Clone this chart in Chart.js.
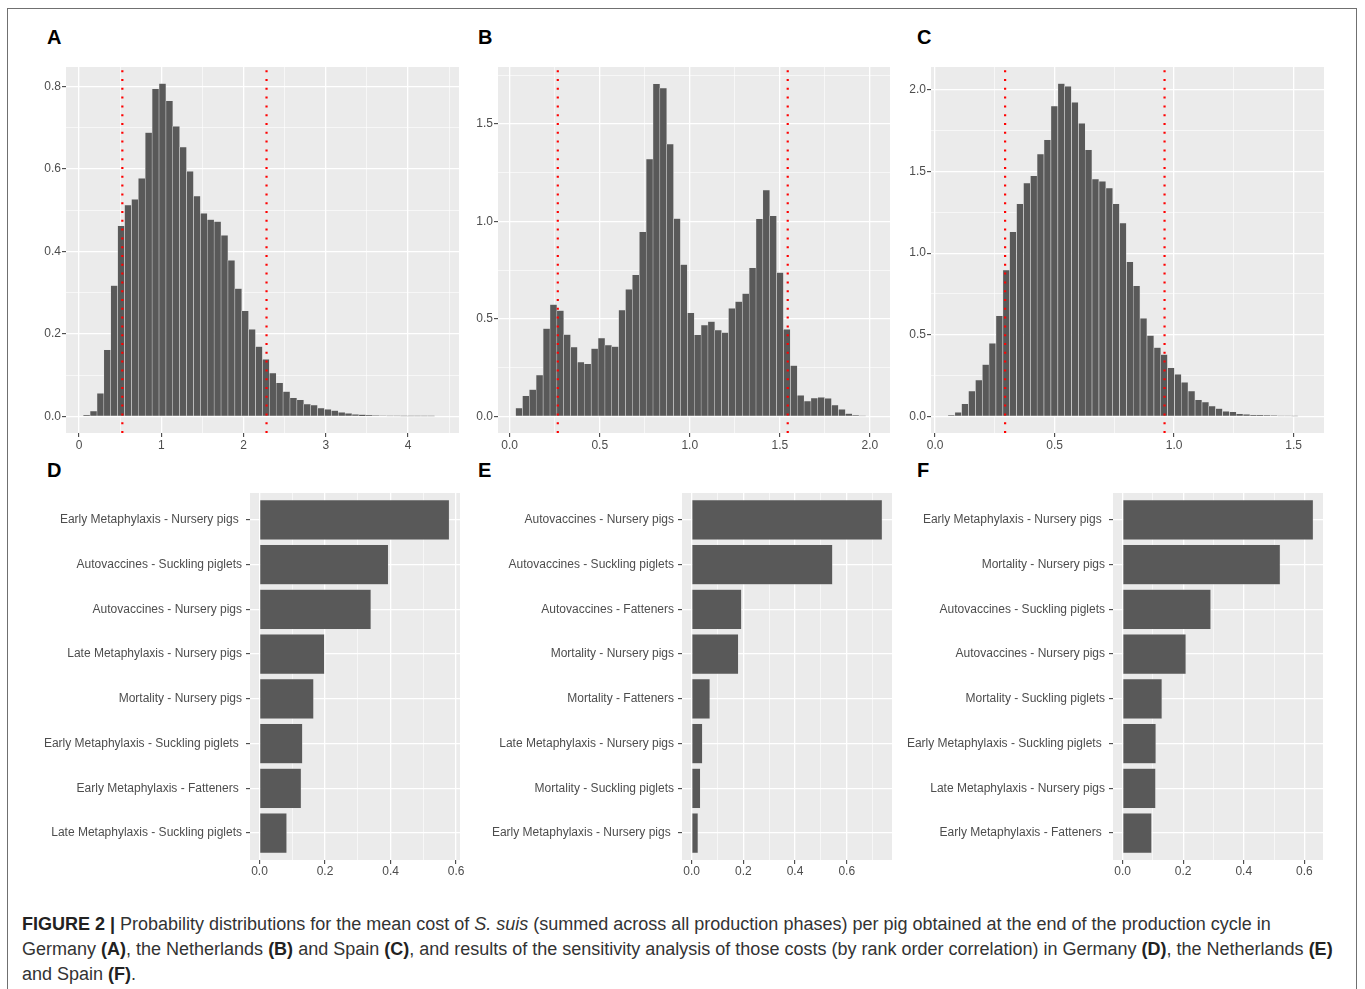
<!DOCTYPE html>
<html><head><meta charset="utf-8">
<script src="https://cdn.jsdelivr.net/npm/chart.js"></script>
<style>
html,body{margin:0;padding:0;background:#fff;width:1365px;height:989px;overflow:hidden;position:relative;}
#frame{position:absolute;left:7px;top:8px;width:1350px;height:1100px;border:1.5px solid #707070;box-sizing:border-box;}
.lbl{position:absolute;font:bold 20px/20px "Liberation Sans",Arial,sans-serif;color:#000;}
canvas{position:absolute;}
#caption{position:absolute;left:22px;top:912px;font:18px/25px "Liberation Sans",Arial,sans-serif;color:#333;white-space:nowrap;}
#caption b{color:#222;}
</style></head><body>
<div id="frame"></div>
<div class="lbl" style="left:47px;top:27px">A</div>
<div class="lbl" style="left:478px;top:27px">B</div>
<div class="lbl" style="left:917px;top:27px">C</div>
<div class="lbl" style="left:47px;top:460px">D</div>
<div class="lbl" style="left:478px;top:460px">E</div>
<div class="lbl" style="left:917px;top:460px">F</div>
<canvas id="cA"></canvas><canvas id="cB"></canvas><canvas id="cC"></canvas>
<canvas id="cD"></canvas><canvas id="cE"></canvas><canvas id="cF"></canvas>
<div id="caption"><b>FIGURE 2 |</b> Probability distributions for the mean cost of <i>S. suis</i> (summed across all production phases) per pig obtained at the end of the production cycle in<br>Germany <b>(A)</b>, the Netherlands <b>(B)</b> and Spain <b>(C)</b>, and results of the sensitivity analysis of those costs (by rank order correlation) in Germany <b>(D)</b>, the Netherlands <b>(E)</b><br>and Spain <b>(F)</b>.</div>
<script>
// ---------- DATA ----------
// Histogram A (Germany)
const histA_x = [0.093,0.177,0.261,0.344,0.428,0.512,0.596,0.680,0.763,0.847,0.931,1.015,1.099,1.182,1.266,1.350,1.434,1.518,1.601,1.685,1.769,1.853,1.937,2.020,2.104,2.188,2.272,2.356,2.439,2.523,2.607,2.691,2.775,2.858,2.942,3.026,3.110,3.194,3.277,3.361,3.445,3.529,3.613,3.696,3.780,3.864,3.948,4.032,4.115,4.199,4.283];
const histA_y = [0.003,0.013,0.056,0.161,0.317,0.462,0.512,0.526,0.577,0.688,0.794,0.807,0.765,0.703,0.653,0.594,0.534,0.492,0.477,0.472,0.439,0.378,0.310,0.256,0.211,0.169,0.138,0.105,0.081,0.060,0.045,0.040,0.030,0.027,0.020,0.017,0.014,0.010,0.007,0.005,0.004,0.003,0.002,0.0015,0.001,0.001,0.0007,0.0005,0.0005,0.0003,0.0002];
const histA_ci = [0.527, 2.28];
const histA_xTicks = [0,1,2,3,4], histA_xLabels = ["0","1","2","3","4"], histA_xMinor = [0.5,1.5,2.5,3.5,4.5];
const histA_yTicks = [0,0.2,0.4,0.6,0.8], histA_yLabels = ["0.0","0.2","0.4","0.6","0.8"], histA_yMinor = [0.1,0.3,0.5,0.7];

// Histogram B (Netherlands)
const histB_x = [0.052,0.090,0.128,0.166,0.205,0.243,0.281,0.319,0.357,0.395,0.433,0.472,0.510,0.548,0.586,0.624,0.662,0.700,0.739,0.777,0.815,0.853,0.891,0.929,0.967,1.006,1.044,1.082,1.120,1.158,1.196,1.234,1.272,1.311,1.349,1.387,1.425,1.463,1.501,1.539,1.578,1.616,1.654,1.692,1.730,1.768,1.806,1.845,1.883,1.921,1.959];
const histB_y = [0.043,0.106,0.137,0.212,0.450,0.574,0.543,0.420,0.356,0.279,0.269,0.348,0.402,0.366,0.358,0.546,0.652,0.726,0.947,1.320,1.707,1.685,1.397,1.015,0.779,0.531,0.418,0.469,0.486,0.443,0.430,0.555,0.589,0.630,0.762,1.014,1.161,1.029,0.738,0.447,0.260,0.108,0.079,0.094,0.098,0.092,0.058,0.036,0.014,0.005,0.002];
const histB_ci = [0.267, 1.544];
const histB_xTicks = [0,0.5,1,1.5,2], histB_xLabels = ["0.0","0.5","1.0","1.5","2.0"], histB_xMinor = [0.25,0.75,1.25,1.75];
const histB_yTicks = [0,0.5,1,1.5], histB_yLabels = ["0.0","0.5","1.0","1.5"], histB_yMinor = [0.25,0.75,1.25,1.75];

// Histogram C (Spain)
const histC_x = [0.068,0.097,0.125,0.154,0.183,0.212,0.240,0.269,0.298,0.326,0.355,0.384,0.413,0.441,0.470,0.499,0.528,0.556,0.585,0.614,0.642,0.671,0.700,0.729,0.757,0.786,0.815,0.843,0.872,0.901,0.930,0.958,0.987,1.016,1.044,1.073,1.102,1.131,1.159,1.188,1.217,1.246,1.274,1.303,1.332,1.360,1.389,1.418,1.447,1.475,1.504];
const histC_y = [0.006,0.025,0.076,0.155,0.223,0.317,0.448,0.616,0.896,1.131,1.303,1.429,1.474,1.607,1.695,1.902,2.039,2.022,1.924,1.796,1.634,1.454,1.440,1.399,1.303,1.184,0.947,0.800,0.601,0.495,0.421,0.378,0.297,0.258,0.209,0.155,0.102,0.088,0.063,0.047,0.031,0.027,0.016,0.012,0.010,0.008,0.006,0.004,0.002,0.002,0.001];
const histC_ci = [0.293, 0.960];
const histC_xTicks = [0,0.5,1,1.5], histC_xLabels = ["0.0","0.5","1.0","1.5"], histC_xMinor = [0.25,0.75,1.25];
const histC_yTicks = [0,0.5,1,1.5,2], histC_yLabels = ["0.0","0.5","1.0","1.5","2.0"], histC_yMinor = [0.25,0.75,1.25,1.75];

// Sensitivity D (Germany)
const sensD_cats = ["Early Metaphylaxis - Nursery pigs ","Autovaccines - Suckling piglets","Autovaccines - Nursery pigs","Late Metaphylaxis - Nursery pigs","Mortality - Nursery pigs","Early Metaphylaxis - Suckling piglets ","Early Metaphylaxis - Fatteners ","Late Metaphylaxis - Suckling piglets"];
const sensD_vals = [0.580,0.394,0.341,0.199,0.166,0.132,0.128,0.084];
// Sensitivity E (Netherlands)
const sensE_cats = ["Autovaccines - Nursery pigs","Autovaccines - Suckling piglets","Autovaccines - Fatteners","Mortality - Nursery pigs","Mortality - Fatteners","Late Metaphylaxis - Nursery pigs","Mortality - Suckling piglets","Early Metaphylaxis - Nursery pigs "];
const sensE_vals = [0.738,0.546,0.194,0.182,0.072,0.043,0.035,0.026];
// Sensitivity F (Spain)
const sensF_cats = ["Early Metaphylaxis - Nursery pigs ","Mortality - Nursery pigs","Autovaccines - Suckling piglets","Autovaccines - Nursery pigs","Mortality - Suckling piglets","Early Metaphylaxis - Suckling piglets ","Late Metaphylaxis - Nursery pigs","Early Metaphylaxis - Fatteners "];
const sensF_vals = [0.630,0.521,0.292,0.210,0.131,0.111,0.110,0.097];
const sens_xTicks = [0,0.2,0.4,0.6], sens_xLabels = ["0.0","0.2","0.4","0.6"];
const sensDF_xMinor = [0.1,0.3,0.5], sensE_xMinor = [0.1,0.3,0.5,0.7];

// ---------- STYLE / LAYOUT ----------
const FONT = "'Liberation Sans', Arial, Helvetica, sans-serif";
const BAR = '#595959';
const panelBg = { id:'panelBg', beforeDraw(chart){ const {ctx, chartArea:a} = chart; ctx.save(); ctx.fillStyle='#ebebeb'; ctx.fillRect(a.left, a.top, a.right-a.left, a.bottom-a.top); ctx.restore(); } };

function place(id, area, W, H, PT, PR){
  const c = document.getElementById(id);
  const w = W + (area.r - area.l) + PR, h = PT + (area.b - area.t) + H;
  c.width = w; c.height = h;
  c.style.left = (area.l - W) + 'px'; c.style.top = (area.t - PT) + 'px';
  c.style.width = w + 'px'; c.style.height = h + 'px';
  return c;
}
function tickSetter(major, labels, minor){
  return (s) => {
    const t = major.map((v,i)=>({value:v, txt:labels[i], minor:false}))
      .concat(minor.map(v=>({value:v, txt:'', minor:true})));
    t.sort((a,b)=>a.value-b.value);
    s.ticks = t;
  };
}
function gridOpts(){
  return {
    color:'#ffffff',
    lineWidth: ctx => (ctx.tick && ctx.tick.minor) ? 0.6 : 1.3,
    tickColor: ctx => (ctx.tick && ctx.tick.minor) ? 'rgba(0,0,0,0)' : '#333333',
    tickWidth: 1, tickLength: 4, drawTicks: true, offset:false
  };
}
function axis(type, min, max, setter, fitFn, pad, extra){
  return Object.assign({
    type, min, max, offset:false,
    afterBuildTicks: setter,
    afterFit: fitFn,
    ticks:{ autoSkip:false, maxRotation:0, minRotation:0, padding:pad, color:'#4d4d4d',
      font:{family:FONT, size:12}, callback:(v,i,ts)=>ts[i].txt },
    grid: gridOpts(),
    border:{display:false}
  }, extra||{});
}
const fitX = H => s => { s.height = H; s.paddingLeft = 0; s.paddingRight = 0; s.paddingTop = 0; s.paddingBottom = 0; };
const fitY = W => s => { s.width = W; s.paddingTop = 0; s.paddingBottom = 0; s.paddingLeft = 0; s.paddingRight = 0; };

function makeHist(id, area, xs, ys, ci, xr, yr, xT, xL, xM, yT, yL, yM){
  const W = 44, H = 26, PT = 10, PR = 12;
  const c = place(id, area, W, H, PT, PR);
  const datasets = [{
    type:'bar', order:1,
    data: xs.map((x,i)=>({x, y:ys[i]})),
    backgroundColor: BAR, borderColor:'rgba(230,230,230,0.9)', borderWidth:0.5,
    barPercentage:1, categoryPercentage:1
  }].concat(ci.map(v=>({
    type:'line', order:0,
    data:[{x:v, y:yr[0]},{x:v, y:yr[1]}],
    borderColor:'#ff0000', borderWidth:2.2, borderDash:[2,6.8], borderCapStyle:'butt',
    pointRadius:0, fill:false
  })));
  new Chart(c, {
    data:{datasets},
    options:{
      responsive:false, animation:false, devicePixelRatio:1,
      layout:{padding:{top:PT, right:PR, left:0, bottom:0}},
      plugins:{legend:{display:false}, tooltip:{enabled:false}},
      scales:{
        x: axis('linear', xr[0], xr[1], tickSetter(xT,xL,xM), fitX(H), 1),
        y: axis('linear', yr[0], yr[1], tickSetter(yT,yL,yM), fitY(W), 1)
      }
    },
    plugins:[panelBg]
  });
}

function makeSens(id, area, cats, vals, xr, xMinor){
  const W = 232, H = 26, PT = 10, PR = 14;
  const c = place(id, area, W, H, PT, PR);
  const idx = cats.map((c,i)=>i+1);
  new Chart(c, {
    type:'bar',
    data:{datasets:[{
      data: cats.map((cat,i)=>({x:vals[i], y:idx[i]})),
      backgroundColor: BAR, borderColor:'rgba(225,225,225,0.7)', borderWidth:0.6,
      barPercentage:0.9, categoryPercentage:1
    }]},
    options:{
      indexAxis:'y', responsive:false, animation:false, devicePixelRatio:1,
      layout:{padding:{top:PT, right:PR, left:0, bottom:0}},
      plugins:{legend:{display:false}, tooltip:{enabled:false}},
      scales:{
        x: axis('linear', xr[0], xr[1], tickSetter(sens_xTicks, sens_xLabels, xMinor), fitX(H), 0),
        y: axis('linear', 0.4, cats.length + 0.6, tickSetter(idx, cats, []), fitY(W), 4, {reverse:true})
      }
    },
    plugins:[panelBg]
  });
}

makeHist('cA', {l:66,t:67,r:459,b:433}, histA_x, histA_y, histA_ci, [-0.158,4.62], [-0.0404,0.847],
  histA_xTicks, histA_xLabels, histA_xMinor, histA_yTicks, histA_yLabels, histA_yMinor);
makeHist('cB', {l:498,t:67,r:890,b:433}, histB_x, histB_y, histB_ci, [-0.065,2.112], [-0.0854,1.793],
  histB_xTicks, histB_xLabels, histB_xMinor, histB_yTicks, histB_yLabels, histB_yMinor);
makeHist('cC', {l:931,t:67,r:1324,b:433}, histC_x, histC_y, histC_ci, [-0.017,1.627], [-0.102,2.141],
  histC_xTicks, histC_xLabels, histC_xMinor, histC_yTicks, histC_yLabels, histC_yMinor);

makeSens('cD', {l:250,t:493,r:460,b:860}, sensD_cats, sensD_vals, [-0.029,0.612], sensDF_xMinor);
makeSens('cE', {l:682,t:493,r:892,b:860}, sensE_cats, sensE_vals, [-0.037,0.775], sensE_xMinor);
makeSens('cF', {l:1113,t:493,r:1323,b:860}, sensF_cats, sensF_vals, [-0.0315,0.6615], sensDF_xMinor);
</script>
</body></html>
